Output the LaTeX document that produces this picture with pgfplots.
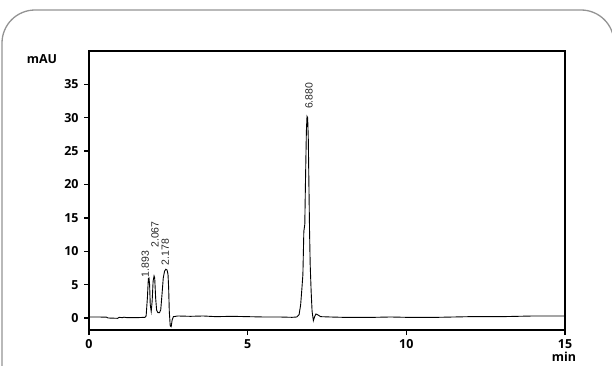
\documentclass[border=0pt]{standalone}
\usepackage{pgfplots}
\pgfplotsset{compat=1.18}
\usepackage{fontspec}
\setmainfont{Open Sans}
\newfontfamily\peakfont{Liberation Sans}
\tikzset{peak/.style={rotate=90, anchor=west, font=\peakfont\fontsize{10.5}{12}\selectfont, text=black!85, inner sep=0pt}}
\pgfplotstableread{
x y
0.00 0.15
0.30 0.15
0.55 0.12
0.60 0.00
0.90 -0.05
0.95 0.10
1.05 0.05
1.10 0.12
1.20 0.05
1.50 0.05
1.76 0.10
1.80 0.30
1.84 3.0
1.87 5.9
1.89 6.0
1.91 5.0
1.93 2.0
1.96 1.0
1.99 2.5
2.02 5.5
2.05 6.3
2.07 6.0
2.10 3.0
2.13 1.2
2.17 0.8
2.22 0.8
2.26 1.2
2.30 3.5
2.34 6.0
2.38 7.0
2.42 7.3
2.46 7.2
2.49 6.5
2.51 4.5
2.53 1.0
2.56 -1.2
2.59 -1.3
2.62 -0.3
2.66 0.2
2.80 0.3
3.20 0.25
3.60 0.3
4.00 0.2
4.50 0.25
5.00 0.2
5.50 0.15
6.00 0.15
6.40 0.1
6.55 0.15
6.62 0.5
6.67 2.0
6.71 4.5
6.74 6.5
6.77 13.0
6.80 14.0
6.82 20.0
6.85 28.0
6.87 30.2
6.89 30.0
6.91 27.0
6.93 20.0
6.95 13.0
6.97 8.0
7.00 4.0
7.03 1.0
7.07 -0.4
7.11 0.2
7.15 0.6
7.20 0.5
7.30 0.2
7.60 0.15
8.00 0.1
9.00 0.1
9.50 0.15
10.00 0.1
11.00 0.1
12.00 0.2
13.00 0.2
14.00 0.3
15.00 0.3
}\chrom
\begin{document}
\begin{tikzpicture}[x=1bp,y=1bp]
\useasboundingbox (0,0) rectangle (612,365);
\begin{scope}
\clip (0,0) rectangle (612,365);
\draw[gray!85, line width=1.3bp, rounded corners=33bp] (2,-40) rectangle (614,355);
\end{scope}
\begin{axis}[
  scale only axis,
  width=476bp, height=279bp,
  at={(89bp,35bp)}, anchor=south west,
  xmin=0, xmax=15, ymin=-1.8, ymax=40,
  axis line style={line width=1.4bp},
  xtick={0,5,10,15}, ytick={0,5,...,35},
  tick style={line width=1.4bp, black},
  tick align=outside, major tick length=5bp,
  xtick pos=bottom, ytick pos=left,
  tick label style={font=\bfseries\fontsize{12.5}{14}\selectfont},
  /pgf/number format/assume math mode=true,
  xticklabel style={yshift=-1bp},
  yticklabel style={xshift=-2bp},
  clip=false,
]
\addplot[black, line width=0.9bp] table[x=x,y=y] {\chrom};
\node[peak] at (axis cs:1.77,6.1) {1.893};
\node[peak] at (axis cs:2.08,10.5) {2.067};
\node[peak] at (axis cs:2.40,7.9) {2.178};
\node[peak] at (axis cs:6.93,31.3) {6.880};
\end{axis}
\node[font=\bfseries\fontsize{12.5}{14}\selectfont] at (42,306) {mAU};
\node[font=\bfseries\fontsize{12.5}{14}\selectfont, inner sep=1pt] at (564,8) {min};
\end{tikzpicture}
\end{document}
